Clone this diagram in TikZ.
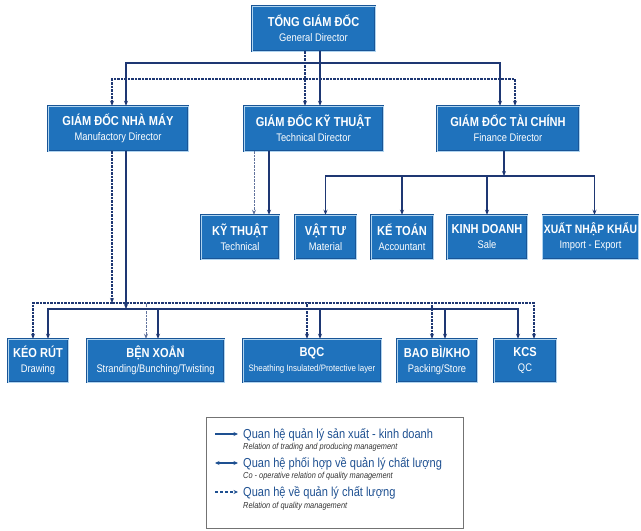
\documentclass[tikz,border=0pt]{standalone}
\usepackage{fontspec}
\setmainfont[FakeStretch=0.85]{Liberation Sans}
\usetikzlibrary{arrows.meta,calc}
\definecolor{boxblue}{RGB}{31,114,188}
\definecolor{boxlight}{RGB}{175,212,240}
\definecolor{boxdark}{RGB}{25,85,150}
\definecolor{linenavy}{RGB}{30,55,115}
\definecolor{legtext}{RGB}{30,80,145}
\newcommand{\twoline}[2]{{\fontsize{13}{15}\selectfont\bfseries #1}\\{#2}}
\begin{document}
\begin{tikzpicture}[x=1pt,y=-1pt,
  box/.style={fill=boxblue, draw=boxdark, double=boxlight, double distance=0.9pt,
    line width=0.5pt, text=white, align=center, inner sep=0pt,
    font=\fontsize{11}{15}\selectfont},
  sol/.style={draw=linenavy, line width=1.6pt, -{Stealth[length=5pt,width=4pt]}},
  dsh/.style={draw=linenavy, line width=1.3pt, dash pattern=on 2.5pt off 1pt, -{Stealth[length=5pt,width=4pt]}},
  dshthin/.style={draw=linenavy!70, line width=0.7pt, dash pattern=on 2.5pt off 1pt, -{Stealth[length=5pt,width=4pt]}},
  legsub/.style={anchor=base west, inner sep=0pt, font=\fontsize{8.7}{10}\selectfont\itshape, text=black!80},
  legmain/.style={anchor=base west, inner sep=0pt, font=\fontsize{13}{15}\selectfont, text=legtext}
]
\useasboundingbox (0,0) rectangle (641,531);
\clip (0,0) rectangle (641,531);

% boxes
\node[box, minimum width=123, minimum height=45] (tgd) at (313.5,28.5) {\twoline{TỔNG GIÁM ĐỐC}{General Director}};
\node[box, minimum width=140, minimum height=45] (nm) at (118,128.5) {\twoline{GIÁM ĐỐC NHÀ MÁY}{Manufactory Director}};
\node[box, minimum width=139, minimum height=45] (kt) at (313.5,128.5) {\twoline{GIÁM ĐỐC KỸ THUẬT}{Technical Director}};
\node[box, minimum width=142, minimum height=45] (tc) at (508,128.5) {\twoline{GIÁM ĐỐC TÀI CHÍNH}{Finance Director}};

\node[box, minimum width=78, minimum height=44] (kythuat) at (240,237) {\twoline{KỸ THUẬT}{Technical}};
\node[box, minimum width=61, minimum height=44] (vattu) at (325.5,237) {\twoline{VẬT TƯ}{Material}};
\node[box, minimum width=62, minimum height=44] (ketoan) at (402,237) {\twoline{KẾ TOÁN}{Accountant}};
\node[box, minimum width=80, minimum height=44] (kinhdoanh) at (487,237) {\twoline{KINH DOANH}{Sale}};
\node[box, minimum width=96, minimum height=44] (xnk) at (590.5,237) {{\fontsize{12.2}{15}\selectfont\bfseries XUẤT NHẬP KHẨU}\\Import - Export};

\node[box, minimum width=60, minimum height=43] (keo) at (38,360.5) {\twoline{KÉO RÚT}{Drawing}};
\node[box, minimum width=137, minimum height=43] (ben) at (155.5,360.5) {\twoline{BỆN XOẮN}{Stranding/Bunching/Twisting}};
\node[box, minimum width=138, minimum height=43] (bqc) at (312,360.5) {\twoline{BQC}{\fontsize{9.3}{11}\selectfont Sheathing Insulated/Protective layer}};
\node[box, minimum width=80, minimum height=43] (bao) at (437,360.5) {\twoline{BAO BÌ/KHO}{Packing/Store}};
\node[box, minimum width=62, minimum height=43] (kcs) at (525,360.5) {\twoline{KCS}{QC}};

% junctions
\coordinate (js) at (320,63);
\coordinate (jd) at (305,79);
\coordinate (jt) at (504,176);
\coordinate (js2) at (126,309);
\coordinate (jd2) at (112,303);

% top level
\draw[sol] ([xshift=6.5pt]tgd.south) -- ([xshift=6.5pt]kt.north);
\draw[dsh] ([xshift=-8.5pt]tgd.south) -- ([xshift=-8.5pt]kt.north);
\draw[sol] (js) -| ([xshift=8pt]nm.north);
\draw[sol] (js) -| ([xshift=-8pt]tc.north);
\draw[dsh] (jd) -| ([xshift=-6pt]nm.north);
\draw[dsh] (jd) -| ([xshift=7pt]tc.north);

% technical director to technical
\draw[sol] ([xshift=-44.5pt]kt.south) -- ([xshift=-44.5pt]kt.south |- kythuat.north);
\draw[dshthin] ([xshift=-59.5pt]kt.south) -- ([xshift=-59.5pt]kt.south |- kythuat.north);

% finance director
\draw[sol] ([xshift=-4pt]tc.south) -- (jt);
\draw[sol] (jt) -| (vattu.north);
\draw[sol] (jt) -| (ketoan.north);
\draw[sol] (jt) -| (kinhdoanh.north);
\draw[sol] (jt) -| ([xshift=4pt]xnk.north);

% manufactory director
\draw[dsh] ([xshift=-6pt]nm.south) -- (jd2);
\draw[sol] ([xshift=8pt]nm.south) -- (js2);
\draw[dsh] (jd2) -| ([xshift=-5pt]keo.north);
\draw[sol] (js2) -| ([xshift=10pt]keo.north);
\draw[dshthin] (jd2) -| ([xshift=-9.5pt]ben.north);
\draw[sol] (js2) -| ([xshift=2.5pt]ben.north);
\draw[dsh] (jd2) -| ([xshift=-5pt]bqc.north);
\draw[sol] (js2) -| ([xshift=8pt]bqc.north);
\draw[dsh] (jd2) -| ([xshift=-5pt]bao.north);
\draw[sol] (js2) -| ([xshift=8pt]bao.north);
\draw[sol] (js2) -| ([xshift=-7pt]kcs.north);
\draw[dsh] (jd2) -| ([xshift=9pt]kcs.north);

% legend
\node[draw=black!55, line width=0.6pt, minimum width=257, minimum height=111, inner sep=0pt] (legend) at (334.5,472.5) {};
\coordinate (la1) at (215,434); \coordinate (lb1) at (238,434);
\coordinate (la2) at (215,463); \coordinate (lb2) at (238,463);
\coordinate (la3) at (215,492); \coordinate (lb3) at (238,492);
\draw[draw=legtext, line width=1.1pt, -{Stealth[length=4.5pt,width=4pt]}] (la1) -- (lb1);
\draw[draw=legtext, line width=1.1pt, {Stealth[length=4.5pt,width=4pt]}-{Stealth[length=4.5pt,width=4pt]}] (la2) -- (lb2);
\draw[draw=legtext, line width=1.4pt, dash pattern=on 3pt off 2pt, -{Stealth[length=4.5pt,width=4pt]}] (la3) -- (lb3);
\node[legmain] (lm1) at (243,438) {Quan hệ quản lý sản xuất - kinh doanh};
\node[legsub] (ls1) at (243,449) {Relation of trading and producing management};
\node[legmain] (lm2) at (243,467) {Quan hệ phối hợp về quản lý chất lượng};
\node[legsub] (ls2) at (243,478) {Co - operative relation of quality management};
\node[legmain] (lm3) at (243,496) {Quan hệ về quản lý chất lượng};
\node[legsub] (ls3) at (243,508) {Relation of quality management};
\end{tikzpicture}
\end{document}
